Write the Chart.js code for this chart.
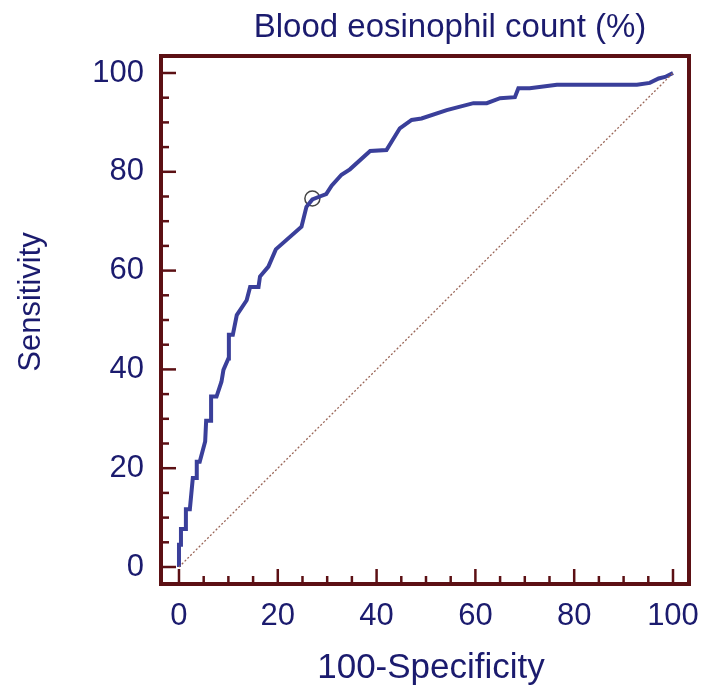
<!DOCTYPE html>
<html>
<head>
<meta charset="utf-8">
<script src="https://cdn.jsdelivr.net/npm/chart.js@4.4.1/dist/chart.umd.min.js"></script>
<style>
  html, body { margin: 0; padding: 0; background: #fff; }
</style>
</head>
<body>
<canvas id="roc" width="705" height="690"></canvas>
<script>
"use strict";

// ROC curve (100-Specificity, Sensitivity)
var fpr = [0, 0, 0.4, 0.4, 1.4, 1.4, 2.2, 2.8, 3.6, 3.6, 4.2, 5.3, 5.5, 6.5, 6.5, 7.6, 8.6, 9.0, 10.0, 10.1,
           10.9, 11.7, 13.7, 14.4, 16.1, 16.4, 18.1, 19.6, 24.8, 25.8, 27.0, 28.5, 29.8, 30.9, 32.9, 34.6,
           38.7, 42.0, 44.7, 47.1, 49.1, 54.2, 59.6, 62.3, 65.0, 68.0, 68.7, 71.0, 76.5, 92.7, 95.3, 97.1, 98.4, 100];
var tpr = [0, 4.5, 4.5, 7.7, 7.7, 11.7, 11.7, 18, 18, 21.3, 21.3, 25.4, 29.6, 29.6, 34.5, 34.5, 37.5, 39.9, 42.2, 47,
           47, 51, 54, 56.7, 56.7, 58.8, 60.8, 64.3, 68.9, 72.9, 74.4, 75, 75.5, 77.2, 79.4, 80.5,
           84.2, 84.4, 88.8, 90.5, 90.8, 92.5, 93.9, 93.9, 94.9, 95.1, 96.9, 96.9, 97.6, 97.6, 98, 98.9, 99.2, 100];

// reference diagonal and the optimal criterion point
var diagX = [0, 100];
var diagY = [0, 100];
var critX = [27.0];
var critY = [74.6];

var xTicks = [0, 20, 40, 60, 80, 100];
var yTicks = [0, 20, 40, 60, 80, 100];
var minorStep = 5;

var chartTitle = 'Blood eosinophil count (%)';
var xTitle = '100-Specificity';
var yTitle = 'Sensitivity';

var textColor = '#1b1b6e';
var frameColor = '#5c1014';
var curveColor = '#3a3f9a';
var fontFamily = '"Liberation Sans", Arial, sans-serif';

function toPoints(xs, ys) {
    return xs.map(function (x, i) { return { x: x, y: ys[i] }; });
}

// frame round the plot and the inward tick marks
var framePlugin = {
    id: 'frame',
    beforeDatasetsDraw: function (chart) {
        var ctx = chart.ctx;
        var a = chart.chartArea;
        var sx = chart.scales.x;
        var sy = chart.scales.y;
        ctx.save();
        ctx.strokeStyle = frameColor;
        ctx.lineCap = 'butt';
        ctx.lineWidth = 2.5;
        for (var v = 0; v <= 100; v += minorStep) {
            var len = (v % 20 === 0) ? 15 : 8;
            var px = sx.getPixelForValue(v);
            ctx.beginPath();
            ctx.moveTo(px, a.bottom);
            ctx.lineTo(px, a.bottom - len);
            ctx.stroke();
            var py = sy.getPixelForValue(v);
            ctx.beginPath();
            ctx.moveTo(a.left, py);
            ctx.lineTo(a.left + len, py);
            ctx.stroke();
        }
        ctx.lineWidth = 4;
        ctx.strokeRect(a.left, a.top, a.right - a.left, a.bottom - a.top);
        ctx.restore();
    }
};

// titles sit off-centre in the original, so place them by hand
var titlesPlugin = {
    id: 'titles',
    afterDraw: function (chart) {
        var ctx = chart.ctx;
        ctx.save();
        ctx.fillStyle = textColor;
        ctx.textAlign = 'center';
        ctx.textBaseline = 'middle';
        ctx.font = '33px ' + fontFamily;
        ctx.fillText(chartTitle, 450, 28);
        ctx.font = '35px ' + fontFamily;
        ctx.fillText(xTitle, 431, 668);
        ctx.translate(31, 302);
        ctx.rotate(-Math.PI / 2);
        ctx.font = '31px ' + fontFamily;
        ctx.fillText(yTitle, 0, 0);
        ctx.restore();
    }
};

var tickFont = { family: fontFamily, size: 31 };

var rocChart = new Chart(document.getElementById('roc'), {
    type: 'scatter',
    data: {
        datasets: [
            {
                label: 'Reference line',
                data: toPoints(diagX, diagY),
                showLine: true,
                borderColor: '#9a6658',
                borderWidth: 1.3,
                borderDash: [2, 2],
                pointRadius: 0
            },
            {
                label: 'ROC curve',
                data: toPoints(fpr, tpr),
                showLine: true,
                borderColor: curveColor,
                borderWidth: 4,
                tension: 0,
                pointRadius: 0
            },
            {
                label: 'Criterion',
                data: toPoints(critX, critY),
                showLine: false,
                pointRadius: 7.5,
                pointBorderWidth: 1.5,
                pointBackgroundColor: '#ffffff',
                pointBorderColor: '#444444'
            }
        ]
    },
    options: {
        responsive: false,
        animation: false,
        layout: { padding: { left: 0, right: 16, top: 56, bottom: 0 } },
        plugins: {
            legend: { display: false },
            tooltip: { enabled: false },
            title: { display: false }
        },
        scales: {
            x: {
                type: 'linear',
                min: -3.64,
                max: 103.24,
                afterBuildTicks: function (axis) {
                    axis.ticks = xTicks.map(function (v) { return { value: v }; });
                },
                afterFit: function (scale) {
                    scale.height = 106;
                    scale.paddingLeft = 0;
                    scale.paddingRight = 0;
                },
                grid: { display: false, drawTicks: false },
                border: { display: false },
                ticks: { color: textColor, font: tickFont, padding: 14, maxRotation: 0 }
            },
            y: {
                type: 'linear',
                min: -3.44,
                max: 103.44,
                afterBuildTicks: function (axis) {
                    axis.ticks = yTicks.map(function (v) { return { value: v }; });
                },
                afterFit: function (scale) {
                    scale.width = 161;
                    scale.paddingTop = 0;
                    scale.paddingBottom = 0;
                },
                grid: { display: false, drawTicks: false },
                border: { display: false },
                ticks: { color: textColor, font: tickFont, padding: 17 }
            }
        }
    },
    plugins: [framePlugin, titlesPlugin]
});
</script>
</body>
</html>
